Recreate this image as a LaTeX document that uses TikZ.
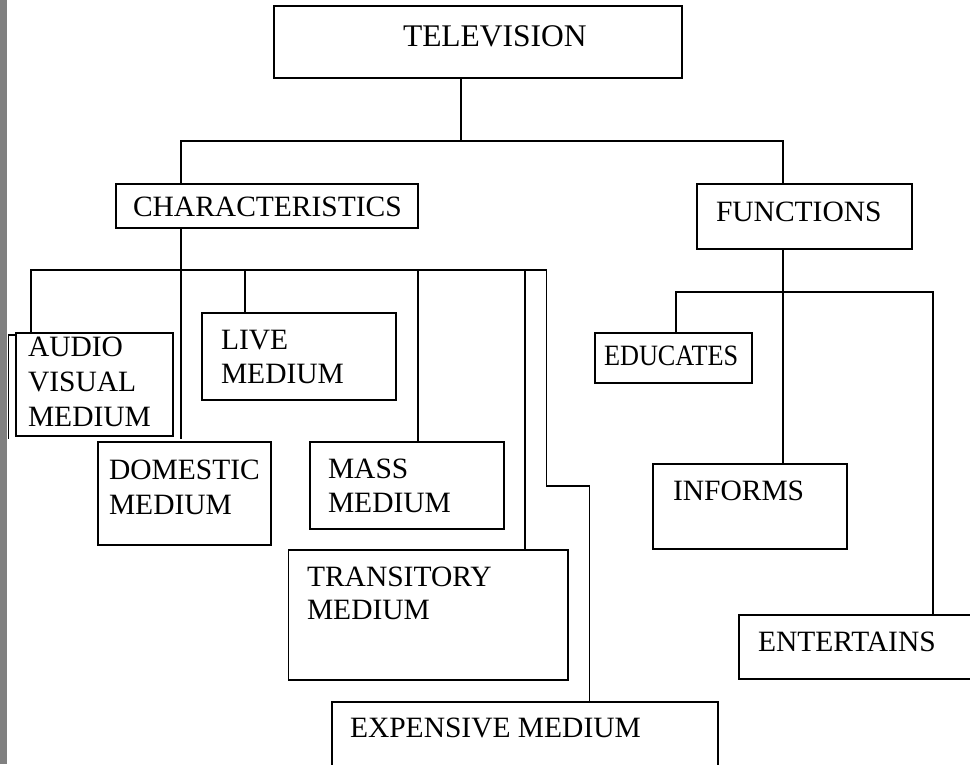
\documentclass[tikz,border=0pt]{standalone}
\usepackage{fontspec}
\setmainfont{Liberation Serif}
\definecolor{sidebar}{RGB}{128,128,128}
\begin{document}
\begin{tikzpicture}[x=1pt,y=-1pt,
  box/.style={draw=black, line width=1.2pt, rectangle, inner sep=0pt, outer sep=0pt, anchor=north west},
  thickbox/.style={box, line width=2.2pt},
  ln/.style={draw=black, line width=1.2pt},
  lbl/.style={inner sep=0pt, outer sep=0pt, anchor=base west, font=\fontsize{29.5}{35}\selectfont},
  biglbl/.style={lbl, font=\fontsize{31.5}{37}\selectfont}]
\useasboundingbox (0,0) rectangle (970,764);
\fill[sidebar] (0,0) rectangle (7,764);
\clip (0,0) rectangle (970,764);

% boxes
\node[box, minimum width=408pt, minimum height=72pt] (tv) at (274,6) {};
\node[box, minimum width=302pt, minimum height=44pt] (char) at (116,184) {};
\node[box, minimum width=215pt, minimum height=65pt] (func) at (697,184) {};
\node[thickbox, minimum width=157pt, minimum height=103pt] (audio) at (16,333) {};
\node[box, minimum width=194pt, minimum height=87pt] (live) at (202,313) {};
\node[thickbox, minimum width=173pt, minimum height=103pt] (dom) at (98,442) {};
\node[box, minimum width=194pt, minimum height=87pt] (mass) at (310,442) {};
\node[box, minimum width=279.4pt, minimum height=130pt] (trans) at (288.6,550) {};
\node[box, minimum width=386pt, minimum height=100pt] (exp) at (332,702) {};
\node[thickbox, minimum width=157pt, minimum height=50pt] (edu) at (595,333) {};
\node[box, minimum width=194pt, minimum height=85pt] (inf) at (653,464) {};
\node[box, minimum width=260pt, minimum height=64pt] (ent) at (739,615) {};

% texts
\node[biglbl] (tTV) at (403,46) {TELEVISION};
\node[lbl] (tChar) at (133,216) {CHARACTERISTICS};
\node[lbl] (tFunc) at (716,221) {FUNCTIONS};
\node[lbl] (tAud1) at (28,356) {AUDIO};
\node[lbl] (tAud2) at (28,391) {VISUAL};
\node[lbl] (tAud3) at (28,426) {MEDIUM};
\node[lbl] (tLive1) at (221,349) {LIVE};
\node[lbl] (tLive2) at (221,383) {MEDIUM};
\node[lbl] (tDom1) at (109,479) {DOMESTIC};
\node[lbl] (tDom2) at (109,514) {MEDIUM};
\node[lbl] (tMass1) at (328,478) {MASS};
\node[lbl] (tMass2) at (328,512) {MEDIUM};
\node[lbl] (tTr1) at (307,586) {TRANSITORY};
\node[lbl] (tTr2) at (307,619) {MEDIUM};
\node[lbl] (tExp) at (350,737) {EXPENSIVE MEDIUM};
\node[lbl] (tEdu) at (604,365) {\scalebox{0.89}[1]{EDUCATES}};
\node[lbl] (tInf) at (673,500) {INFORMS};
\node[lbl] (tEnt) at (758,651) {ENTERTAINS};

% connectors, level 1
\coordinate (b1L) at (181,141);
\coordinate (b1M) at (461,141);
\coordinate (b1R) at (783,141);
\draw[ln] (b1M |- tv.south) -- (b1M);
\draw[ln] (char.north -| b1L) -- (b1L) -- (b1R) -- (b1R |- func.north);

% connectors, characteristics
\coordinate (b2A) at (31,270);
\coordinate (b2L) at (245,270);
\coordinate (b2M) at (418,270);
\coordinate (b2T) at (525,270);
\coordinate (b2E) at (546.5,270);
\coordinate (cD) at (181,439);
\coordinate (kE) at (546.5,486);
\coordinate (kE2) at (589.5,486);
\draw[ln] (b2A |- audio.north) -- (b2A) -- (b2E);
\draw[ln] (cD |- char.south) -- (cD);
\draw[ln] (b2L) -- (b2L |- live.north);
\draw[ln] (b2M) -- (b2M |- mass.north);
\draw[ln] (b2T) -- (b2T |- trans.north);
\draw[ln] (b2E) -- (kE) -- (kE2) -- (kE2 |- exp.north);

% connectors, functions
\coordinate (b3L) at (676,292);
\coordinate (b3M) at (783,292);
\coordinate (b3R) at (933,292);
\draw[ln] (b3M |- func.south) -- (b3M |- inf.north);
\draw[ln] (b3L |- edu.north) -- (b3L) -- (b3R) -- (b3R |- ent.north);

% stray bracket beside the audio-visual box
\draw[ln] (15,335) -- (8.7,335) -- (8.7,439);
\end{tikzpicture}
\end{document}
